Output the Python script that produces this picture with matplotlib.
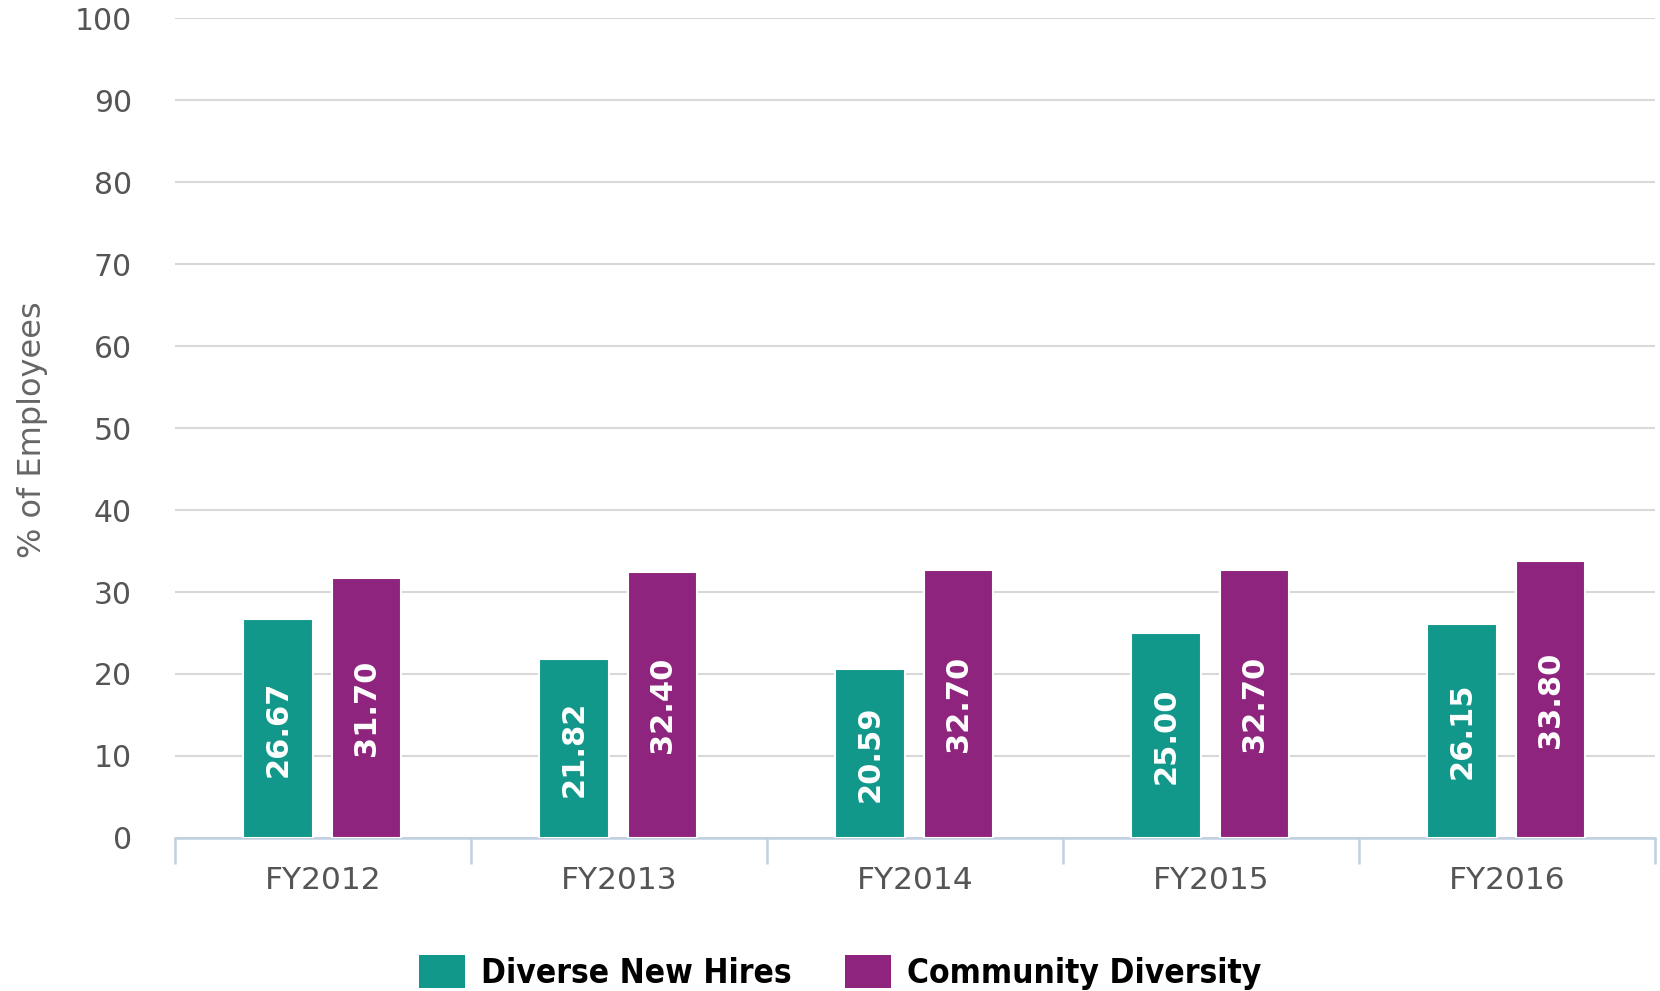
import matplotlib.pyplot as plt
import numpy as np
from matplotlib.patches import Patch

years = ["FY2012", "FY2013", "FY2014", "FY2015", "FY2016"]
new_hires = [26.67, 21.82, 20.59, 25.00, 26.15]
community = [31.70, 32.40, 32.70, 32.70, 33.80]
series_names = ["Diverse New Hires", "Community Diversity"]
yticks = [0, 10, 20, 30, 40, 50, 60, 70, 80, 90, 100]

teal = "#12988A"
purple = "#8E247D"

fig = plt.figure(figsize=(16.6, 9.91), dpi=100)
ax = fig.add_axes([0.1054, 0.1544, 0.8916, 0.8274])

x = np.arange(len(years))
w = 0.235
b1 = ax.bar(x - 0.152, new_hires, w, color=teal, edgecolor="white", linewidth=1.5, zorder=3)
b2 = ax.bar(x + 0.147, community, w, color=purple, edgecolor="white", linewidth=1.5, zorder=3)

for bars, vals in [(b1, new_hires), (b2, community)]:
    for r, v in zip(bars, vals):
        ax.text(r.get_x() + r.get_width() / 2, v / 2, f"{v:.2f}", rotation=90,
                ha="center", va="center", color="white", fontsize=22,
                fontweight="bold", zorder=4)

ax.set_xlim(-0.5, 4.5)
ax.set_ylim(0, 100)
ax.set_yticks(yticks)
ax.yaxis.grid(True, color="#d8d8d8", linewidth=1.5, zorder=0)
ax.set_axisbelow(True)
for s in ["top", "right", "left"]:
    ax.spines[s].set_visible(False)
ax.spines["bottom"].set_color("#c0d0e0")
ax.spines["bottom"].set_linewidth(1.8)

ax.set_xticks(x)
ax.set_xticklabels(years, fontsize=22.5, color="#555555")
ax.tick_params(axis="x", length=0, pad=20)
ax.set_xticks(np.arange(-0.5, 5, 1), minor=True)
ax.tick_params(axis="x", which="minor", length=19, width=1.8, color="#c0d0e0")
ax.tick_params(axis="y", length=0, labelsize=21.5, labelcolor="#555555", pad=31)

fig.text(0.0193, 0.566, "% of Employees", rotation=90, ha="center", va="center",
         fontsize=23, color="#666666")

handles = [Patch(facecolor=teal), Patch(facecolor=purple)]
fig.legend(handles, series_names, loc="center", bbox_to_anchor=(0.506, 0.019), ncol=2,
           frameon=False, handlelength=1.38, handleheight=1.15, handletextpad=0.48,
           columnspacing=1.6, borderpad=0,
           prop={"family": "DejaVu Sans", "stretch": "condensed", "weight": "bold", "size": 24})

fig.savefig("out.png", dpi=100)
